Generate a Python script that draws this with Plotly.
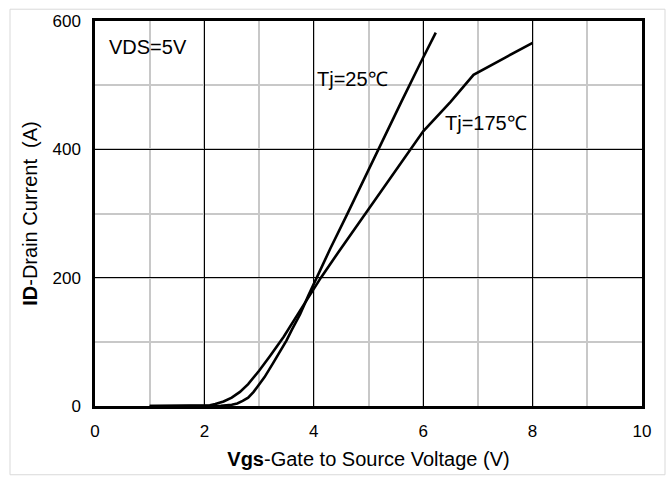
import plotly.graph_objects as go

# Transfer characteristics, VDS = 5V
vgs_25 = [1.0, 2.0, 2.3, 2.5, 2.6, 2.7, 2.8, 2.9, 3.0, 3.1, 3.25, 3.4, 3.5, 3.6, 3.75, 3.9, 4.04,
          4.3, 4.6, 5.16, 5.6, 5.94, 6.23]
id_25 = [0, 0, 0.5, 2, 4, 8, 13, 22, 33, 45, 66, 87, 102, 119, 143, 172, 198,
         245, 297, 397, 474, 533, 582]

vgs_175 = [1.0, 2.0, 2.1, 2.2, 2.35, 2.5, 2.65, 2.8, 2.9, 3.0, 3.2, 3.45, 3.7, 3.95, 4.13,
           4.5, 4.95, 5.35, 5.76, 6.0, 6.5, 6.92, 7.5, 8.0]
id_175 = [0, 0, 1, 3, 7, 13, 22, 34, 44, 55, 78, 108, 142, 176, 200,
          246, 301, 350, 400, 428, 474, 516, 543, 566]

x_ticks = [0, 2, 4, 6, 8, 10]
y_ticks = [0, 200, 400, 600]

FONT = "Liberation Sans, Arial, sans-serif"

fig = go.Figure()
fig.add_trace(go.Scatter(x=vgs_25, y=id_25, mode="lines", name="Tj=25℃",
                         line=dict(color="black", width=2.6)))
fig.add_trace(go.Scatter(x=vgs_175, y=id_175, mode="lines", name="Tj=175℃",
                         line=dict(color="black", width=2.6)))

fig.update_layout(
    width=670, height=479,
    margin=dict(l=95, r=28, t=15, b=72),
    paper_bgcolor="white", plot_bgcolor="white",
    showlegend=False,
    font=dict(family=FONT, color="black", size=17),
    xaxis=dict(
        range=[0, 10], tickvals=x_ticks, ticks="", showgrid=True,
        gridcolor="black", gridwidth=1,
        minor=dict(dtick=1, showgrid=True, gridcolor="#c8c8c8", gridwidth=1.5),
        showline=True, linecolor="black", linewidth=2.5, mirror=True,
        zeroline=False, tickfont=dict(size=17), ticklabelstandoff=8,
        title=dict(text="<b>Vgs</b>-Gate to Source Voltage (V)", font=dict(size=20), standoff=12),
    ),
    yaxis=dict(
        range=[0, 600], tickvals=y_ticks, ticks="", showgrid=True,
        gridcolor="black", gridwidth=1,
        minor=dict(dtick=100, showgrid=True, gridcolor="#c8c8c8", gridwidth=1.5),
        showline=True, linecolor="black", linewidth=2.5, mirror=True,
        zeroline=False, tickfont=dict(size=17), ticklabelstandoff=8,
        title=dict(text="<b>ID</b>-Drain Current  (A)", font=dict(size=20), standoff=10),
    ),
    annotations=[
        dict(x=0.97, y=560, xref="x", yref="y", text="VDS=5V", showarrow=False,
             font=dict(size=20)),
        dict(x=4.70, y=510, xref="x", yref="y", text="Tj=25℃", showarrow=False,
             font=dict(size=20)),
        dict(x=7.14, y=441, xref="x", yref="y", text="Tj=175℃", showarrow=False,
             font=dict(size=20)),
    ],
    shapes=[
        dict(type="rect", xref="paper", yref="paper",
             x0=(10 - 95) / 547, x1=(665 - 95) / 547,
             y0=-(477 - 407) / 392, y1=1 + (15 - 3) / 392,
             line=dict(color="#d9d9d9", width=1), layer="below"),
    ],
)

fig.write_html("out.html")
